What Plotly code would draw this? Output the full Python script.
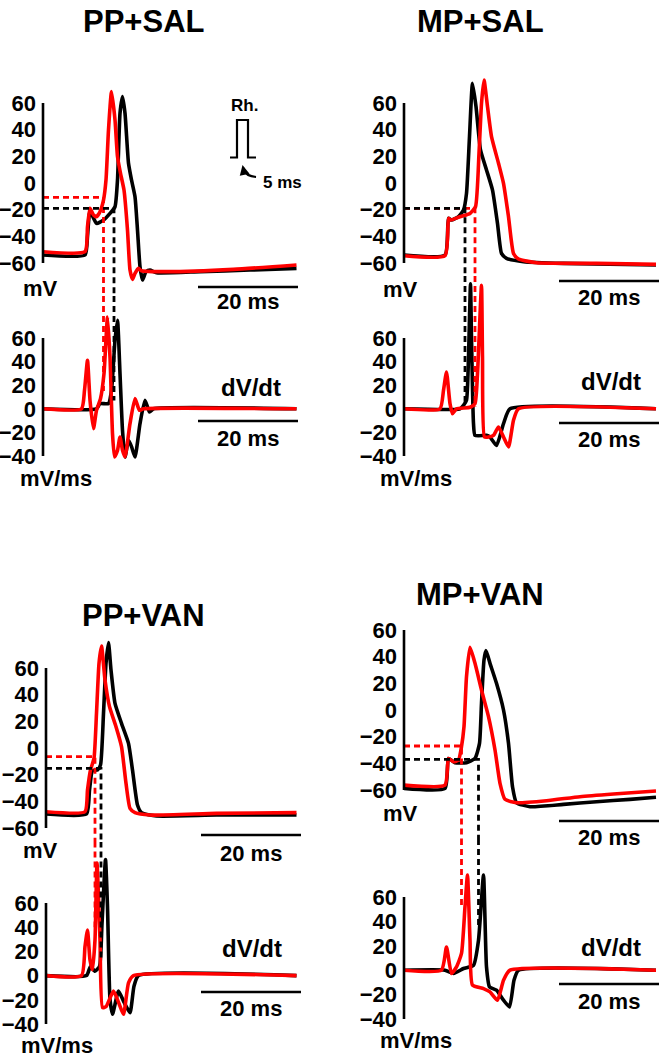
import plotly.graph_objects as go

W, H = 660, 1061
FONT = "Arial, Liberation Sans, sans-serif"
BLACK, RED = "#000000", "#ff0000"

titles = ["PP+SAL", "MP+SAL", "PP+VAN", "MP+VAN"]
ap_ticks = [-60, -40, -20, 0, 20, 40, 60]
dvdt_ticks = [-40, -20, 0, 20, 40, 60]

# ---- data: (time ms, value) ----
pp_sal_ap_black = [(0, -54), (8.4, -54), (8.9, -40), (9.4, -21), (10.7, -30.3), (12.1, -27.8), (13.4, -22.8),
                   (14.4, -17.8), (14.9, 2.3), (15.4, 52.3), (15.9, 64.8), (16.4, 52.3), (17.1, 14.8), (17.7, 2.3),
                   (18.4, -10.3), (18.9, -35.3), (19.4, -62.8), (19.9, -72.8), (20.6, -66.5), (21.4, -65.3),
                   (22.7, -67.3), (31.4, -66.5), (41.4, -65.3), (50.7, -64)]
pp_sal_ap_red = [(0, -51.5), (8.4, -51.5), (8.9, -32.8), (9.4, -19), (10.1, -24), (10.7, -25.3), (11.4, -21.5),
                 (12.1, -12.8), (12.6, 2.3), (13.1, 39.8), (13.7, 68.5), (14.4, 47.3), (14.9, 19.8), (15.5, 7.3),
                 (16.2, -5.3), (16.9, -35.3), (17.4, -65.3), (17.9, -72.3), (18.4, -67.8), (19.1, -64),
                 (19.7, -65.8), (24.7, -66.5), (38.1, -64.8), (50.7, -61.5)]
pp_sal_dvdt_black = [(0, 0), (10.7, 0), (11.4, 4.4), (13.1, 4.4), (13.7, 15.7), (14.4, 58), (14.9, 75), (15.4, 29.8),
                     (15.9, -18.2), (16.4, -40.8), (17.1, -26.7), (17.7, -32), (18.4, -40.8), (19.4, -12.6),
                     (20.4, 7.2), (21.3, -2.7), (22.1, 0), (50.7, 0)]
pp_sal_dvdt_red = [(0, 0), (7.7, 0), (8.3, 15.7), (8.9, 41), (9.4, 7.2), (10.1, -16.8), (10.7, -1.3), (11.5, 8.6),
                   (12.2, 29.8), (12.9, 77.8), (13.4, 43.9), (13.9, -21), (14.3, -40.8), (14.9, -35.2),
                   (15.4, -23.9), (15.9, -35.2), (16.4, -40.8), (17.4, -12.6), (18.4, 8.6), (19.3, -1.3),
                   (20.1, 0), (50.7, 0)]

mp_sal_ap_black = [(0, -54), (8.2, -54), (8.9, -26.5), (9.5, -27.8), (10.9, -25.3), (11.9, -20.3), (12.5, -7.8),
                   (13.1, 34.8), (13.7, 74.8), (14.4, 57.3), (15.3, 24.8), (16.5, 9.8), (17.7, -5.3), (18.7, -30.3),
                   (19.5, -52.8), (20.5, -56.5), (23.9, -59), (31.9, -60.3), (50.4, -61.5)]
mp_sal_ap_red = [(0, -54.5), (8.2, -54.5), (8.9, -26.5), (9.3, -27.8), (11.2, -25.3), (13.2, -22.8), (14.3, -17.8),
                 (15, 22.3), (15.5, 59.8), (16, 77.3), (16.7, 57.3), (17.5, 34.8), (18.9, 14.8), (19.9, -0.3),
                 (20.9, -25.3), (21.9, -52.8), (22.9, -57), (26.5, -59.8), (38.5, -60.3), (50.4, -61)]
mp_sal_dvdt_black = [(0, 0), (11.2, 0), (11.9, 3), (12.5, 7.2), (12.9, 44), (13.3, 106), (13.5, 60), (13.9, -12.6),
                     (14.2, -22.5), (16.5, -22.5), (17.2, -24), (18.5, -31), (19.9, -12.6), (21.2, 0), (50.4, 0)]
mp_sal_dvdt_red = [(0, 0), (7.2, 0), (7.9, 15.7), (8.5, 31.2), (9.2, 4.4), (9.7, -4.1), (10.5, 0), (13.2, 1.3),
                   (14.2, 4.4), (14.7, 29.8), (15.5, 104.7), (15.7, 44), (16.1, -23.9), (16.9, -23.9),
                   (17.9, -22.5), (18.9, -15.4), (19.9, -23.9), (20.9, -32.3), (21.9, -9.7), (22.9, 0), (50.4, 0)]

pp_van_ap_black = [(0, -49.5), (8.1, -49.5), (8.7, -31.5), (9.3, -17), (10.3, -16.5), (10.9, -12.8), (11.5, 26),
                   (12, 63.5), (12.5, 79), (13, 58.5), (13.8, 33.5), (15.1, 18.5), (16.5, 3.5), (17.3, -16.5),
                   (18.3, -42.8), (19.1, -48.5), (22.1, -51), (34.1, -50.3), (50.1, -50.3)]
pp_van_ap_red = [(0, -47.8), (7.8, -47.8), (8.3, -31.5), (8.9, -16.5), (9.6, -7.8), (10.1, 26), (10.6, 63.5),
                 (11.1, 76.5), (11.8, 51), (12.7, 31), (14, 16), (15.1, 1), (16, -26.5), (16.8, -45.3),
                 (17.8, -48.5), (20.8, -50.3), (34.1, -49), (50.1, -48.5)]
pp_van_dvdt_black = [(0, 0), (8.1, 0), (8.9, 7.6), (9.8, 3.6), (10.7, 7.6), (11.2, 43), (11.9, 96), (12.3, 56.8),
                     (12.8, -19.7), (13.3, -32), (14.5, -12.8), (15.6, -22), (16.8, -30.6), (17.6, -8.7),
                     (18.5, 0), (50.1, 0)]
pp_van_dvdt_red = [(0, 0), (7.1, 0), (7.8, 24), (8.3, 37.7), (8.8, 13), (9.3, 4.9), (9.8, 29.5), (10.2, 93),
                   (10.8, 29.5), (11.3, -26.5), (12, -25.7), (13.5, -12.8), (14.5, -22), (15.5, -32), (16.5, -6),
                   (17.5, 0), (50.1, 0)]

mp_van_ap_black = [(0, -58.8), (8.2, -58.8), (8.9, -36.3), (10.2, -39.5), (12.5, -39.5), (14.2, -36.3),
                   (15.1, -25), (15.5, 5), (16, 37.5), (16.4, 44.5), (17.2, 35), (18.5, 20), (19.9, 0),
                   (20.9, -25), (21.7, -57.5), (22.5, -69.5), (25.2, -72.5), (31.9, -70.8), (38.5, -68.8),
                   (45.2, -67), (50.4, -65.5)]
mp_van_ap_red = [(0, -56.3), (8.2, -56.3), (8.9, -36.3), (9.9, -38.8), (10.9, -37.5), (11.5, -27.5), (12, -12.5),
                 (12.5, 25), (13.2, 47), (14.2, 35), (15.5, 15), (16.9, -5), (18.2, -30), (19.2, -55), (20.2, -67),
                 (22.5, -69.5), (28.5, -68), (35.2, -65), (41.9, -63), (50.4, -60.8)]
mp_van_dvdt_black = [(0, 0), (8.2, 0), (9.9, -2.7), (11.9, 1.4), (13.9, 4.1), (14.9, 24.6), (15.9, 78),
                     (16.5, 2.7), (17.1, -13.7), (18.5, -16.4), (19.9, -24.6), (21.1, -30.1), (22, -8.2),
                     (22.9, 0), (50.4, 0)]
mp_van_dvdt_red = [(0, 0), (7.5, 0), (8.5, 19), (9.5, -2.7), (10.5, 2.7), (11.5, 13.7), (12.2, 52), (12.7, 78),
                   (13.2, 24.6), (13.7, -12.3), (15.9, -15.1), (17.2, -17.8), (18.7, -24.6), (19.9, -8.2),
                   (21.2, 0), (50.4, 0)]

# threshold (dashed) markers per panel
thr_t_black = [14.2, 12.2, 11.0, 14.9]
thr_v_black = [-19, -19, -15.3, -37]
thr_t_red = [12.1, 14.2, 9.8, 11.5]
thr_v_red = [-10.8, -19, -6.5, -27]
dash_end_black = [7, 6, 13, 36]
dash_end_red = [15, 2, 40, 52]

ap_data = [(pp_sal_ap_black, pp_sal_ap_red), (mp_sal_ap_black, mp_sal_ap_red),
           (pp_van_ap_black, pp_van_ap_red), (mp_van_ap_black, mp_van_ap_red)]
dvdt_data = [(pp_sal_dvdt_black, pp_sal_dvdt_red), (mp_sal_dvdt_black, mp_sal_dvdt_red),
             (pp_van_dvdt_black, pp_van_dvdt_red), (mp_van_dvdt_black, mp_van_dvdt_red)]

# ---- layout geometry (pixels) ----
geo = [
    dict(ax=43, ap60=103, apm60=263, dv60=338, dvm40=456, top=50, bnd=295, bot=472,
         title=(143, 22), mv=(40, 288), mvms=(56, 478), apbar=287, aptxt=301,
         dvlab=(251, 387), dvbar=421, dvtxt=438),
    dict(ax=404, ap60=103, apm60=263, dv60=338, dvm40=456, top=50, bnd=275, bot=472,
         title=(480, 22), mv=(400, 289), mvms=(416, 478), apbar=281, aptxt=297,
         dvlab=(611, 381), dvbar=423, dvtxt=439),
    dict(ax=46, ap60=668, apm60=828, dv60=903, dvm40=1024, top=625, bnd=842, bot=1040,
         title=(143, 615), mv=(40, 850), mvms=(57, 1045), apbar=835, aptxt=853,
         dvlab=(252, 948), dvbar=992, dvtxt=1008),
    dict(ax=404, ap60=630, apm60=790, dv60=897, dvm40=1019, top=600, bnd=840, bot=1035,
         title=(480, 594), mv=(400, 813), mvms=(416, 1040), apbar=821, aptxt=837,
         dvlab=(611, 947), dvbar=984, dvtxt=1001),
]
PXMS = 5.0          # pixels per ms
XSPAN = 255         # plot width in px
BAR_T0, BAR_LEN = 31, 20


def fx(p):
    return p / W


def fy(p):
    return 1 - p / H


fig = go.Figure()
layout = dict(width=W, height=H, margin=dict(l=0, r=0, t=0, b=0), showlegend=False,
              plot_bgcolor="white", paper_bgcolor="white")
shapes, annos = [], []
tickfont = dict(family=FONT, size=22, color="black", weight="bold")
lblfont = dict(family=FONT, size=22, color="black", weight="bold")

for k, g in enumerate(geo):
    xn = "x" if k == 0 else f"x{k + 1}"
    yap = "y" if k == 0 else f"y{2 * k + 1}"
    ydv = f"y{2 * k + 2}"
    xkey = "xaxis" if k == 0 else f"xaxis{k + 1}"
    yapkey = "yaxis" if k == 0 else f"yaxis{2 * k + 1}"
    ydvkey = f"yaxis{2 * k + 2}"

    layout[xkey] = dict(domain=[fx(g["ax"]), fx(g["ax"] + XSPAN)], range=[0, XSPAN / PXMS],
                        visible=False, anchor=yap)
    s = (g["apm60"] - g["ap60"]) / 120.0
    ap_rng = [-60 - (g["bnd"] - g["apm60"]) / s, 60 + (g["ap60"] - g["top"]) / s]
    layout[yapkey] = dict(domain=[fy(g["bnd"]), fy(g["top"])], range=ap_rng, anchor=xn,
                          tickvals=ap_ticks, ticks="", showgrid=False, zeroline=False, showline=False,
                          tickfont=tickfont, ticklabelstandoff=6)
    s2 = (g["dvm40"] - g["dv60"]) / 100.0
    dv_rng = [-40 - (g["bot"] - g["dvm40"]) / s2, 60 + (g["dv60"] - g["bnd"]) / s2]
    layout[ydvkey] = dict(domain=[fy(g["bot"]), fy(g["bnd"])], range=dv_rng, anchor=xn,
                          tickvals=dvdt_ticks, ticks="", showgrid=False, zeroline=False, showline=False,
                          tickfont=tickfont, ticklabelstandoff=6)

    # traces
    for data, yname in ((ap_data[k], yap), (dvdt_data[k], ydv)):
        for series, col in zip(data, (BLACK, RED)):
            fig.add_trace(go.Scatter(x=[p[0] for p in series], y=[p[1] for p in series], mode="lines",
                                     line=dict(color=col, width=3.6, shape="spline", smoothing=0.5),
                                     xaxis=xn, yaxis=yname, hoverinfo="skip"))
    # threshold dashed lines (red first then black)
    for tt, vv, de, col in ((thr_t_red[k], thr_v_red[k], dash_end_red[k], RED),
                            (thr_t_black[k], thr_v_black[k], dash_end_black[k], BLACK)):
        fig.add_trace(go.Scatter(x=[0, tt, tt], y=[vv, vv, ap_rng[0] - 50], mode="lines",
                                 line=dict(color=col, width=2.8, dash="6px,4px"),
                                 xaxis=xn, yaxis=yap, hoverinfo="skip"))
        fig.add_trace(go.Scatter(x=[tt, tt], y=[dv_rng[1] + 50, de], mode="lines",
                                 line=dict(color=col, width=2.8, dash="6px,4px"),
                                 xaxis=xn, yaxis=ydv, hoverinfo="skip"))

    # vertical axis lines
    shapes.append(dict(type="line", xref="paper", yref=yap, x0=fx(g["ax"]), x1=fx(g["ax"]),
                       y0=-60, y1=60, line=dict(color="black", width=2.6)))
    shapes.append(dict(type="line", xref="paper", yref=ydv, x0=fx(g["ax"]), x1=fx(g["ax"]),
                       y0=-40, y1=60, line=dict(color="black", width=2.6)))
    # scale bars (20 ms)
    for by in (g["apbar"], g["dvbar"]):
        shapes.append(dict(type="line", xref=xn, yref="paper", x0=BAR_T0, x1=BAR_T0 + BAR_LEN,
                           y0=fy(by), y1=fy(by), line=dict(color="black", width=2.6)))
    bar_cx = g["ax"] + (BAR_T0 + BAR_LEN / 2) * PXMS
    for ty in (g["aptxt"], g["dvtxt"]):
        annos.append(dict(text="20 ms", x=fx(bar_cx), y=fy(ty), xref="paper", yref="paper",
                          showarrow=False, xanchor="center", yanchor="middle", font=lblfont))
    annos.append(dict(text=titles[k], x=fx(g["title"][0]), y=fy(g["title"][1]), xref="paper", yref="paper",
                      showarrow=False, xanchor="center", yanchor="middle",
                      font=dict(family=FONT, size=31, color="black", weight="bold")))
    annos.append(dict(text="mV", x=fx(g["mv"][0]), y=fy(g["mv"][1]), xref="paper", yref="paper",
                      showarrow=False, xanchor="center", yanchor="middle", font=lblfont))
    annos.append(dict(text="mV/ms", x=fx(g["mvms"][0]), y=fy(g["mvms"][1]), xref="paper", yref="paper",
                      showarrow=False, xanchor="center", yanchor="middle", font=lblfont))
    annos.append(dict(text="dV/dt", x=fx(g["dvlab"][0]), y=fy(g["dvlab"][1]), xref="paper", yref="paper",
                      showarrow=False, xanchor="center", yanchor="middle",
                      font=dict(family=FONT, size=24, color="black", weight="bold")))

# Rheobase stimulus inset (schematic)
pulse = [(230, 157.5), (237, 157.5), (237, 120), (248, 120), (248, 157.5), (256, 157.5)]
path = "M " + " L ".join(f"{fx(a):.5f},{fy(b):.5f}" for a, b in pulse)
shapes.append(dict(type="path", xref="paper", yref="paper", path=path, line=dict(color="black", width=2.2)))
curve = f"M {fx(256):.5f},{fy(177):.5f} Q {fx(246):.5f},{fy(176):.5f} {fx(243.5):.5f},{fy(170):.5f}"
shapes.append(dict(type="path", xref="paper", yref="paper", path=curve, line=dict(color="black", width=2.2)))
annos.append(dict(text="", x=fx(242.5), y=fy(165), xref="paper", yref="paper", showarrow=True,
                  ax=2, ay=9, arrowhead=2, arrowsize=1, arrowwidth=2, arrowcolor="black", standoff=0))
annos.append(dict(text="Rh.", x=fx(244), y=fy(106), xref="paper", yref="paper", showarrow=False,
                  xanchor="center", yanchor="middle", font=dict(family=FONT, size=17, color="black", weight="bold")))
annos.append(dict(text="5 ms", x=fx(282), y=fy(182), xref="paper", yref="paper", showarrow=False,
                  xanchor="center", yanchor="middle", font=dict(family=FONT, size=17, color="black", weight="bold")))

layout["shapes"] = shapes
layout["annotations"] = annos
fig.update_layout(**layout)
fig.write_html("out.html", config={"displayModeBar": False},
               post_script="document.body.style.margin='0px';")
